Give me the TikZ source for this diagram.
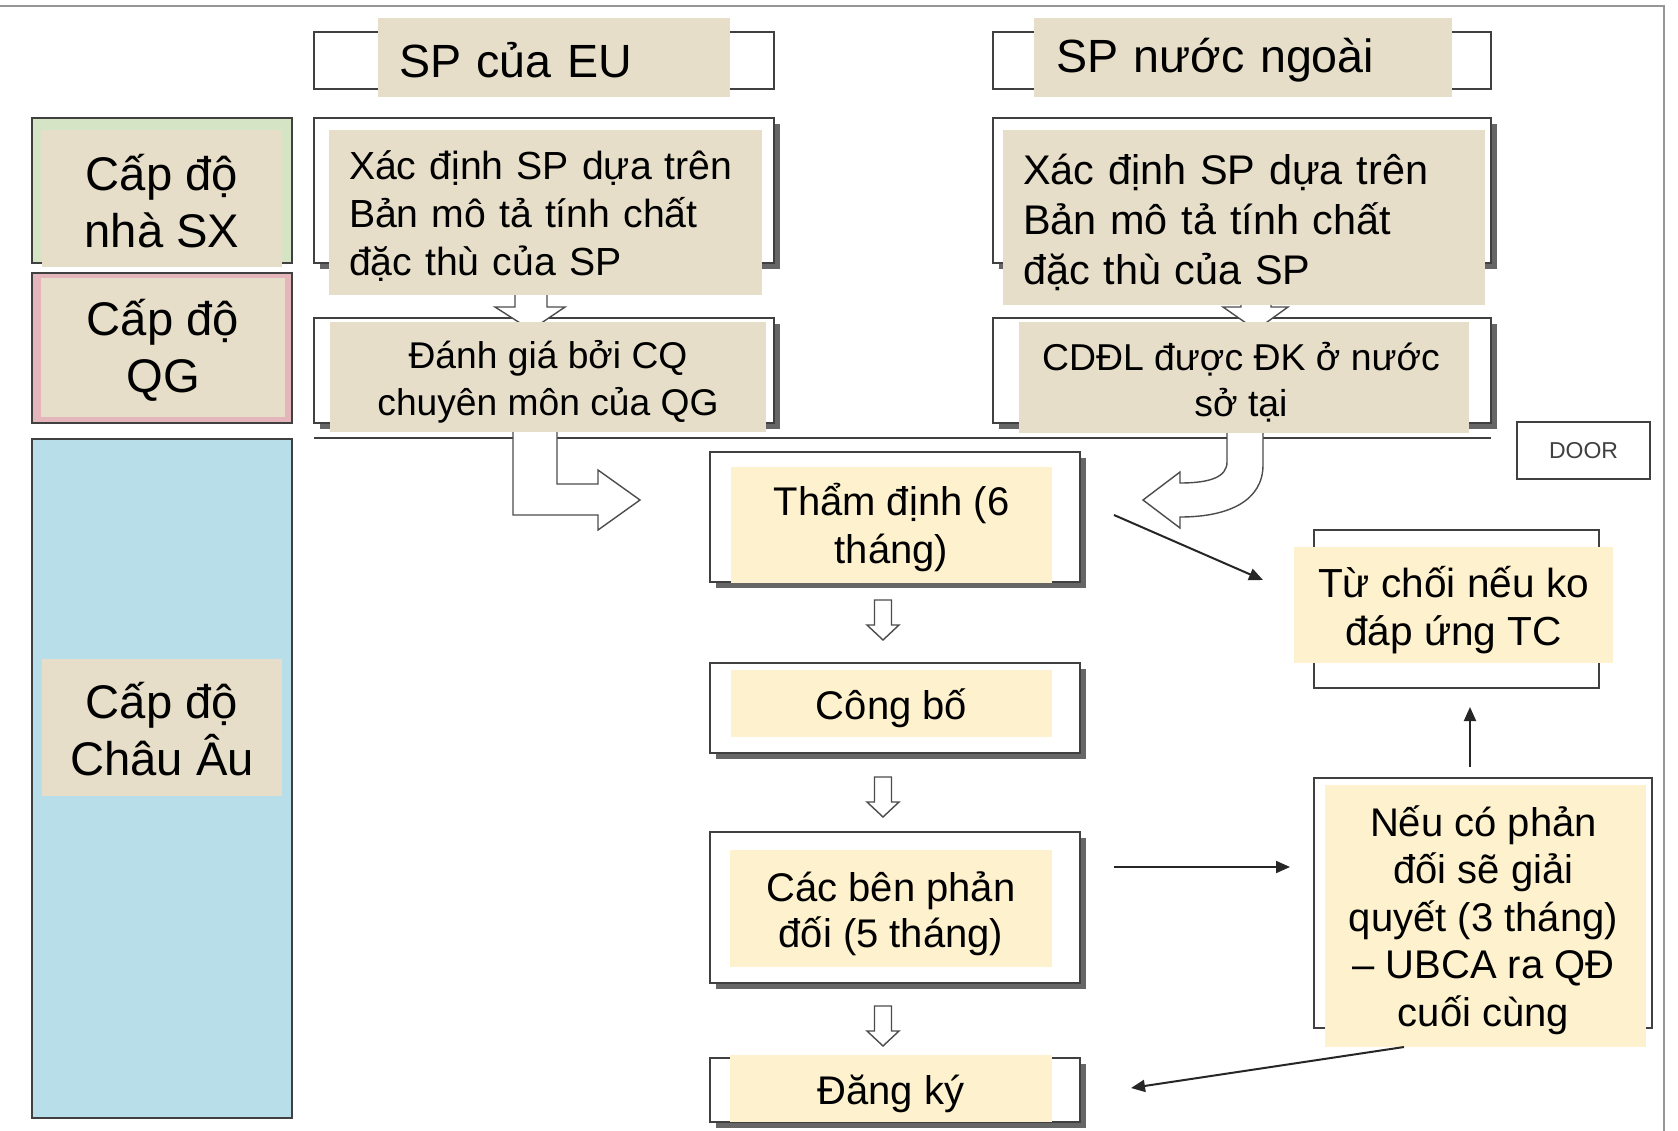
\documentclass[tikz,border=0pt]{standalone}
\usepackage{fontspec}
\setmainfont{Liberation Sans}
\usetikzlibrary{arrows.meta,shadows}
\definecolor{beige}{RGB}{230,222,201}
\definecolor{cream}{RGB}{254,241,206}
\definecolor{skyfill}{RGB}{184,222,234}
\definecolor{greenband}{RGB}{214,228,198}
\definecolor{pinkband}{RGB}{228,182,188}
\definecolor{framegray}{RGB}{150,150,150}
\tikzset{
  colbox/.style={rectangle, draw=black!75, line width=1.1pt, inner sep=0pt},
  obox/.style={rectangle, draw=black!75, line width=1.1pt, fill=white, inner sep=0pt},
  shad/.style={drop shadow={shadow xshift=3pt, shadow yshift=-3pt, fill=black!60, opacity=1}},
  thinbox/.style={rectangle, draw=black!75, line width=0.9pt, fill=white, inner sep=0pt},
  lab/.style={rectangle, fill=beige, inner sep=0pt},
  flab/.style={rectangle, fill=cream, inner sep=0pt},
  txt/.style={inner sep=0pt, align=center, text=black},
  ltxt/.style={inner sep=0pt, align=left, text=black},
  blockarrow/.style={draw=black!70, fill=white, line width=0.7pt, line join=miter},
  conn/.style={draw=black!85, line width=1pt, -{Triangle[length=7pt,width=6pt]}},
  downarrow/.pic={\draw[blockarrow] (-8.5,0) -- (8.5,0) -- (8.5,25) -- (16,25) -- (0,40) -- (-16,25) -- (-8.5,25) -- cycle;}
}
\begin{document}
\begin{tikzpicture}[x=0.5pt,y=-0.5pt]
\useasboundingbox (0,0) rectangle (1678,1131);
\fill[white] (0,0) rectangle (1678,1131);
% frame
\draw[framegray, line width=1.3pt] (0,6) -- (1664,6) -- (1664,1131);

% left column
\node[colbox, fill=greenband, minimum width=130pt, minimum height=72.5pt] (sx) at (162,190.5) {};
\node[colbox, fill=pinkband, minimum width=130pt, minimum height=75pt] (qg) at (162,348) {};
\node[colbox, fill=skyfill, minimum width=130pt, minimum height=339.5pt] (chau) at (162,778.5) {};

% outline boxes
\node[obox, minimum width=230pt, minimum height=28.5pt] (euTop) at (544,60.5) {};
\node[obox, minimum width=249pt, minimum height=28.5pt] (frTop) at (1242,60.5) {};
\node[obox, shad, minimum width=230pt, minimum height=72.5pt] (euXac) at (544,190.5) {};
\node[obox, shad, minimum width=249pt, minimum height=72.5pt] (frXac) at (1242,190.5) {};
\node[obox, shad, minimum width=230pt, minimum height=52.5pt] (euDanh) at (544,370.5) {};
\node[obox, shad, minimum width=249pt, minimum height=52.5pt] (frCD) at (1242,370.5) {};
\node[obox, shad, minimum width=185pt, minimum height=65pt] (tham) at (895,517) {};
\node[obox, shad, minimum width=185pt, minimum height=45pt] (cong) at (895,708) {};
\node[obox, shad, minimum width=185pt, minimum height=75.5pt] (cac) at (895,907.5) {};
\node[obox, shad, minimum width=185pt, minimum height=32pt] (dang) at (895,1090) {};
\node[thinbox, minimum width=142.5pt, minimum height=79pt] (tuchoi) at (1456.5,609) {};
\node[thinbox, minimum width=169pt, minimum height=125pt] (neu) at (1483,903) {};
\node[thinbox, minimum width=66.5pt, minimum height=28.5pt, font=\fontsize{11.5}{13}\selectfont, text=black!75] (door) at (1583.5,450.5) {DOOR};

% separator line
\draw[black!75, line width=1.1pt] (314,438) -- (1491,438);

% small block arrows between upper boxes
\draw[blockarrow] (515,285) -- (547,285) -- (547,307) -- (565,307) -- (531,330) -- (495,307) -- (515,307) -- cycle;
\draw[blockarrow] (1241,290) -- (1271,290) -- (1271,307) -- (1288,307) -- (1256,330) -- (1223,307) -- (1241,307) -- cycle;

% bent arrow EU -> Tham dinh
\draw[blockarrow] (513,425) -- (513,515) -- (598,515) -- (598,530) -- (640,500) -- (598,470) -- (598,484) -- (557,484) -- (557,425) -- cycle;
% curved arrow foreign -> Tham dinh
\draw[blockarrow] (1227,425) -- (1227,462) .. controls (1227,477) and (1210,483) .. (1180,483)
  -- (1180,472) -- (1143,500) -- (1180,528) -- (1180,517)
  .. controls (1230,517) and (1263,500) .. (1263,465) -- (1263,425) -- cycle;

% flow down arrows
\pic at (883,600) {downarrow};
\pic at (883,777) {downarrow};
\pic at (883,1006) {downarrow};

% label fills
\node[lab, minimum width=120pt, minimum height=68.5pt] (sxL) at (162,198.5) {};
\node[lab, minimum width=122pt, minimum height=69.5pt] (qgL) at (163,347.5) {};
\node[lab, minimum width=120pt, minimum height=68.5pt] (chauL) at (162,727.5) {};
\node[lab, minimum width=176pt, minimum height=39.5pt] (euTopL) at (554,57.5) {};
\node[lab, minimum width=209pt, minimum height=39.5pt] (frTopL) at (1243,57.5) {};
\node[lab, minimum width=216.5pt, minimum height=82.5pt] (euXacL) at (545.5,212.5) {};
\node[lab, minimum width=241pt, minimum height=87.5pt] (frXacL) at (1244,217.5) {};
\node[lab, minimum width=218pt, minimum height=55pt] (euDanhL) at (548,377) {};
\node[lab, minimum width=225pt, minimum height=55.5pt] (frCDL) at (1244,377.5) {};
\node[flab, minimum width=160.5pt, minimum height=58pt] (thamL) at (891.5,525) {};
\node[flab, minimum width=160.5pt, minimum height=33.5pt] (congL) at (891.5,703.5) {};
\node[flab, minimum width=161pt, minimum height=58.5pt] (cacL) at (891,908.5) {};
\node[flab, minimum width=161pt, minimum height=33.5pt] (dangL) at (891,1088.5) {};
\node[flab, minimum width=159.5pt, minimum height=58pt] (tuL) at (1453.5,605) {};
\node[flab, minimum width=160.5pt, minimum height=131pt] (neuL) at (1485.5,916) {};

% texts
\node[txt, font=\fontsize{23.6}{28.5}\selectfont] (sxT) at (162,201) {Cấp độ\\nhà SX};
\node[txt, font=\fontsize{23.6}{28.5}\selectfont] (qgT) at (163,350.5) {Cấp độ\\QG};
\node[txt, font=\fontsize{23.6}{28.5}\selectfont] (chauT) at (162,729.5) {Cấp độ\\Châu Âu};

\node[ltxt, text width=155pt, font=\fontsize{23.3}{28}\selectfont] (euTopT) at (554,60) {SP của EU};
\node[ltxt, text width=187pt, font=\fontsize{23.3}{28}\selectfont] (frTopT) at (1243,60) {SP nước ngoài};
\node[ltxt, text width=196.5pt, font=\fontsize{19.6}{24}\selectfont] (euXacT) at (545.5,216.5) {Xác định SP dựa trên\\Bản mô tả tính chất\\đặc thù của SP};
\node[ltxt, text width=221pt, font=\fontsize{20.7}{25}\selectfont] (frXacT) at (1244,222) {Xác định SP dựa trên\\Bản mô tả tính chất\\đặc thù của SP};

\node[txt, font=\fontsize{18.6}{23.5}\selectfont] (euDanhT) at (548,382) {Đánh giá bởi CQ\\chuyên môn của QG};
\node[txt, font=\fontsize{18.7}{23}\selectfont] (frCDT) at (1241,382) {CDĐL được ĐK ở nước\\sở tại};

\node[txt, font=\fontsize{20}{24}\selectfont] (thamT) at (891.5,527) {Thẩm định (6\\tháng)};
\node[txt, font=\fontsize{20}{24}\selectfont] (congT) at (891.5,708.5) {Công bố};
\node[txt, font=\fontsize{20}{23}\selectfont] (cacT) at (891,913.5) {Các bên phản\\đối (5 tháng)};
\node[txt, font=\fontsize{20}{24}\selectfont] (dangT) at (891,1093.5) {Đăng ký};
\node[txt, font=\fontsize{20.3}{24}\selectfont] (tuT) at (1453.5,610) {Từ chối nếu ko\\đáp ứng TC};
\node[txt, font=\fontsize{20}{23.75}\selectfont] (neuT) at (1483.5,920) {Nếu có phản\\đối sẽ giải\\quyết (3 tháng)\\– UBCA ra QĐ\\cuối cùng};

% connectors
\coordinate (c1s) at (1114,515);
\coordinate (c1e) at (1263,580);
\coordinate (c2s) at (1470,767);
\coordinate (c2e) at (1470,707);
\coordinate (c3s) at (1114,867);
\coordinate (c3e) at (1290,867);
\coordinate (c4s) at (1404,1047);
\coordinate (c4e) at (1131,1088);
\draw[conn] (c1s) -- (c1e);
\draw[conn] (c2s) -- (c2e);
\draw[conn] (c3s) -- (c3e);
\draw[conn] (c4s) -- (c4e);
\end{tikzpicture}
\end{document}
